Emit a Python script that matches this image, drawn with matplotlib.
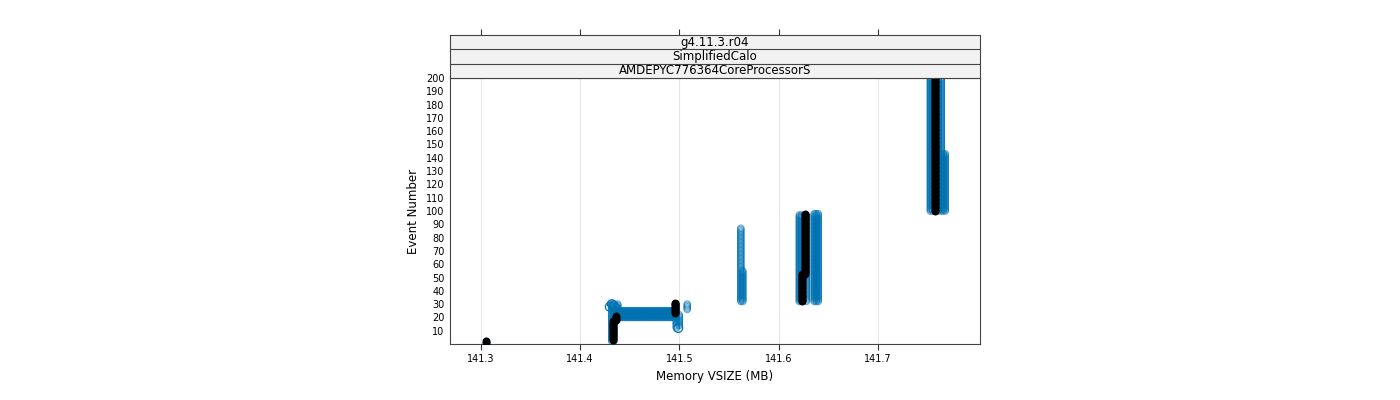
import numpy as np
import matplotlib.pyplot as plt

# vertical runs: (x, first event, last event)
blue_runs = [
    (141.306, 1, 2),
    (141.432, 2, 30), (141.434, 2, 30), (141.438, 20, 30),
    (141.497, 12, 30), (141.500, 14, 22), (141.508, 26, 30),
    (141.562, 32, 87), (141.564, 32, 55),
    (141.621, 32, 97), (141.623, 32, 97), (141.628, 32, 97),
    (141.636, 32, 98), (141.638, 32, 98), (141.640, 32, 98),
    (141.753, 100, 200), (141.755, 100, 200), (141.761, 100, 200),
    (141.764, 100, 200), (141.766, 100, 143), (141.768, 100, 143),
]
black_runs = [
    (141.305, 1, 2),
    (141.433, 3, 17), (141.436, 18, 21),
    (141.496, 23, 31),
    (141.624, 32, 53), (141.627, 53, 98),
    (141.758, 100, 200),
]
# horizontal band: (x start, x end, events)
band_x0, band_x1 = 141.438, 141.495
band_events = [20, 21, 22, 23, 24, 25]
cluster_x = [141.430, 141.432, 141.434, 141.436, 141.499]
cluster_y = [28, 30, 29, 27, 12]

x_ticks = [141.3, 141.4, 141.5, 141.6, 141.7]
y_ticks = list(range(10, 201, 10))
strips = ["g4.11.3.r04", "SimplifiedCalo", "AMDEPYC776364CoreProcessorS"]

blue = "#0072B2"
fig = plt.figure(figsize=(14, 4), dpi=100)
ax = fig.add_axes([450/1400, 1-344/400, 530/1400, 266/400])

def run_pts(runs):
    xs, ys = [], []
    for x, a, b in runs:
        e = np.arange(a, b + 1)
        xs += [x] * len(e)
        ys += list(e)
    return xs, ys

bx, by = run_pts(blue_runs)
ax.scatter(bx, by, s=22, facecolors="none", edgecolors=blue, linewidths=0.8, alpha=0.6)
hx, hy = [], []
for ev in band_events:
    xx = np.linspace(band_x0, band_x1, 40)
    hx += list(xx); hy += [ev] * len(xx)
ax.scatter(hx, hy, s=22, facecolors="none", edgecolors=blue, linewidths=0.8, alpha=0.6)
ax.scatter(cluster_x, cluster_y, s=40, facecolors="none", edgecolors=blue, linewidths=0.9)
kx, ky = run_pts(black_runs)
ax.scatter(kx, ky, s=22, color="black", zorder=3)

ax.set_xlim(141.269, 141.803)
ax.set_ylim(0, 200)
ax.set_xticks(x_ticks)
ax.set_xticklabels([str(t) for t in x_ticks], fontsize=7)
ax.set_yticks(y_ticks)
ax.set_yticklabels([str(t) for t in y_ticks], fontsize=7)
ax.tick_params(axis="y", length=0, pad=4)
ax.tick_params(axis="x", length=4, color="#333333")
ax.grid(axis="x", color="#e6e6e6", linewidth=0.8)
ax.set_axisbelow(True)
for s in ax.spines.values():
    s.set_color("#444444")
ax.set_xlabel("Memory VSIZE (MB)", fontsize=8.5)
ax.set_ylabel("Event Number", fontsize=8.5)

sx = fig.add_axes([450/1400, 1-78/400, 530/1400, 43/400], sharex=ax)
sx.set_facecolor("#f2f2f2")
sx.set_ylim(0, 3)
sx.set_yticks([])
sx.tick_params(axis="x", top=True, bottom=False, labeltop=False, labelbottom=False,
               length=4, color="#333333")
for s in sx.spines.values():
    s.set_color("#444444")
for i, name in enumerate(strips):
    sx.text(0.5, (2 - i) / 3 + 1 / 6, name, transform=sx.transAxes,
            ha="center", va="center", fontsize=8.5)
    if i:
        sx.axhline(3 - i, color="#444444", linewidth=0.8)

fig.savefig("out.png", dpi=100)
